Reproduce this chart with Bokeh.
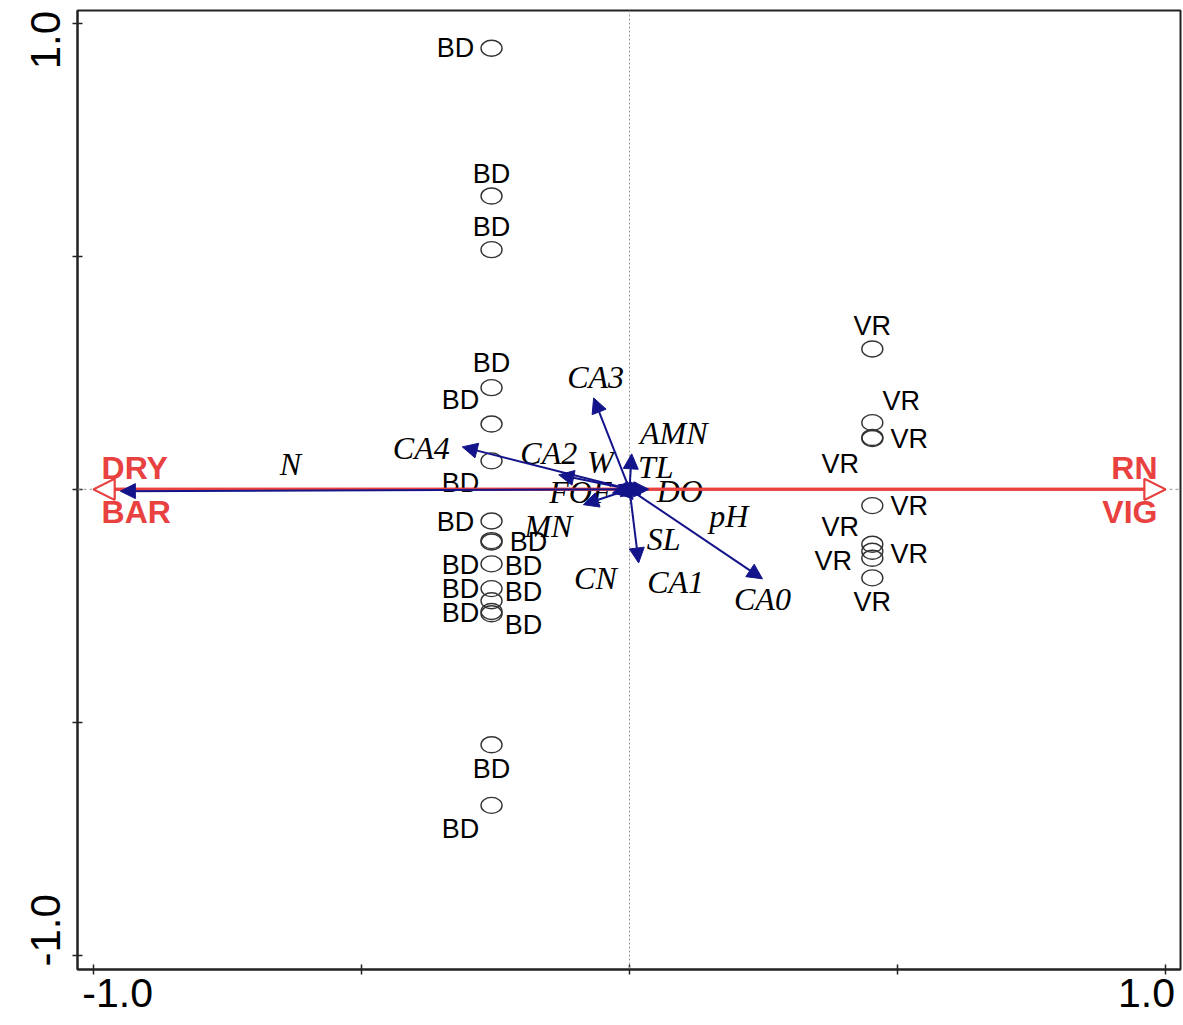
from bokeh.plotting import figure
from bokeh.models import (ColumnDataSource, Arrow, NormalHead, Span, FixedTicker,
                          Range1d, LinearAxis)
from bokeh.core.properties import value
from bokeh.embed import file_html
from bokeh.resources import INLINE

# ---------------- data ----------------
# sample scores: BD group
bd_x = [-0.2575] * 16
bd_y = [0.946, 0.629, 0.514, 0.218, 0.140, 0.061, -0.068, -0.110,
        -0.113, -0.160, -0.213, -0.239, -0.267, -0.262, -0.548, -0.678]
bd_lab = ["BD"] * 16

# sample scores: VR group
vr_x = [0.453] * 9
vr_y = [0.301, 0.143, 0.111, 0.109, -0.035, -0.118, -0.133, -0.148, -0.190]
vr_lab = ["VR"] * 9

# environmental (quantitative) variables: arrow tips
env_names = ["N", "CA4", "CA3", "CA2", "W", "AMN", "TL", "DO", "FOF",
             "MN", "pH", "SL", "CN", "CA1", "CA0"]
env_x = [-0.950, -0.312, -0.067, -0.132, -0.021, 0.006, 0.004, 0.036, -0.032,
         -0.086, 0.021, 0.002, -0.017, 0.017, 0.248]
env_y = [-0.004, 0.091, 0.196, 0.031, 0.010, 0.014, 0.076, 0.000, -0.008,
         -0.033, -0.012, -0.020, -0.016, -0.158, -0.192]

# nominal variables (shown as red arrows)
nom_left = ["DRY", "BAR"]
nom_left_x = [-1.0, -1.0]
nom_left_y = [0.0, 0.0]
nom_right = ["RN", "VIG"]
nom_right_x = [1.0, 1.0]
nom_right_y = [0.0, 0.0]

x_ticks = [-1.0, -0.5, 0.0, 0.5, 1.0]
y_ticks = [-1.0, -0.5, 0.0, 0.5, 1.0]
tick_text = ["-1.0", "1.0"]

# ---------------- layout / style ----------------
# label placement offsets (pixels, relative to the point)
bd_dx = [-36, 0, 0, 0, -31, -31, -36, 37, -31, 32, -31, 32, -31, 32, 0, -31]
bd_dy = [0, -22, -23, -25, -24, 22, 1, 1, 23, 2, 0, -9, -1, 14, 24, 24]
vr_dx = [0, 29, 37, -32, 37, -32, 37, -39, 0]
vr_dy = [-23, -22, 1, 26, 0, -17, 3, 3, 24]
env_dx = [170, -41, 2, -10, -18, 41, 24, 31, -32, -35, 88, 33, -25, 37, 0]
env_dy = [-27, 1, -21, -22, -23, -50, 13, 2, -1, 21, 21, 40, 81, 19, 20]
# end tick labels are pulled inside the frame (as in the original)
x_label_pos = [-0.955, 0.9646]
y_label_pos = [-0.946, 0.9636]

RED = "#e8413f"
NAVY = "#14148a"
AX = "#222222"

p = figure(width=1182, height=1025,
           x_range=Range1d(-1.030, 1.028), y_range=Range1d(-1.030, 1.027),
           output_backend="svg", toolbar_location=None,
           min_border_left=77, min_border_right=2, min_border_top=10,
           min_border_bottom=56)
p.grid.visible = False
p.outline_line_color = AX
p.outline_line_width = 2
p.background_fill_color = "white"

# inner axes: line + ticks only
for ax, ticks in ((p.xaxis[0], x_ticks), (p.yaxis[0], y_ticks)):
    ax.ticker = FixedTicker(ticks=ticks)
    ax.axis_line_color = AX
    ax.axis_line_width = 2
    ax.major_tick_line_color = AX
    ax.major_tick_line_width = 1.5
    ax.major_tick_in = 5
    ax.major_tick_out = 5
    ax.minor_tick_line_color = None
    ax.major_label_text_font_size = "0px"
    ax.major_label_standoff = 0
    ax.major_label_overrides = {t: "" for t in ticks}

# outer axes: the tick labels only
xlab = LinearAxis(ticker=FixedTicker(ticks=x_label_pos),
                  major_label_overrides=dict(zip(x_label_pos, tick_text)))
ylab = LinearAxis(ticker=FixedTicker(ticks=y_label_pos),
                  major_label_overrides=dict(zip(y_label_pos, tick_text)),
                  major_label_orientation="vertical")
for ax, fs, so in ((xlab, "41px", 4), (ylab, "42px", 12)):
    ax.axis_line_color = None
    ax.major_tick_line_color = None
    ax.minor_tick_line_color = None
    ax.major_tick_in = 0
    ax.major_tick_out = 0
    ax.major_label_text_font = "Liberation Sans"
    ax.major_label_text_font_size = fs
    ax.major_label_text_color = "black"
    ax.major_label_standoff = so
p.add_layout(xlab, "below")
p.add_layout(ylab, "left")

# zero lines
p.add_layout(Span(location=0, dimension="height", line_color="#9a9a9a",
                  line_dash="2 2", line_width=1))
p.add_layout(Span(location=0, dimension="width", line_color="#9a9a9a",
                  line_dash="3 3", line_width=1))

# red nominal arrows
for xs, ys in ((nom_left_x, nom_left_y), (nom_right_x, nom_right_y)):
    src = ColumnDataSource(dict(x0=[0.0] * len(xs), y0=[0.0] * len(xs), x1=xs, y1=ys))
    p.add_layout(Arrow(end=NormalHead(size=21, fill_color="white", line_color=RED,
                                      line_width=2),
                       x_start="x0", y_start="y0", x_end="x1", y_end="y1",
                       line_color=RED, line_width=3, source=src))

# blue environmental arrows
env_src = ColumnDataSource(dict(x0=[0.0] * len(env_x), y0=[0.0] * len(env_x),
                                x1=env_x, y1=env_y, name=env_names,
                                dx=env_dx, dy=env_dy))
p.add_layout(Arrow(end=NormalHead(size=15, fill_color=NAVY, line_color=NAVY,
                                  line_width=1),
                   x_start="x0", y_start="y0", x_end="x1", y_end="y1",
                   line_color=NAVY, line_width=2, source=env_src))
p.text(x="x1", y="y1", text="name", x_offset="dx", y_offset="dy", source=env_src,
       text_font=value("Liberation Serif"), text_font_style="italic",
       text_font_size="32px", text_color="black",
       text_align="center", text_baseline="middle")

# red labels
lsrc = ColumnDataSource(dict(x=nom_left_x, y=nom_left_y, t=nom_left, dy=[-21, 23]))
p.text(x="x", y="y", text="t", x_offset=8, y_offset="dy", source=lsrc,
       text_font=value("Liberation Sans"), text_font_style="bold",
       text_font_size="32px", text_color=RED, text_align="left",
       text_baseline="middle")
rsrc = ColumnDataSource(dict(x=nom_right_x, y=nom_right_y, t=nom_right, dy=[-21, 23]))
p.text(x="x", y="y", text="t", x_offset=-8, y_offset="dy", source=rsrc,
       text_font=value("Liberation Sans"), text_font_style="bold",
       text_font_size="32px", text_color=RED, text_align="right",
       text_baseline="middle")

# samples
for xs, ys, labs, dxs, dys in ((bd_x, bd_y, bd_lab, bd_dx, bd_dy),
                               (vr_x, vr_y, vr_lab, vr_dx, vr_dy)):
    src = ColumnDataSource(dict(x=xs, y=ys, t=labs, dx=dxs, dy=dys))
    p.ellipse(x="x", y="y", width=21, height=16, width_units="screen",
              height_units="screen", fill_color=None, line_color="#333333",
              line_width=1.4, source=src)
    p.text(x="x", y="y", text="t", x_offset="dx", y_offset="dy", source=src,
           text_font=value("Liberation Sans"), text_font_size="27px",
           text_color="black", text_align="center", text_baseline="middle")

open("out.html", "w").write(file_html(p, INLINE))
